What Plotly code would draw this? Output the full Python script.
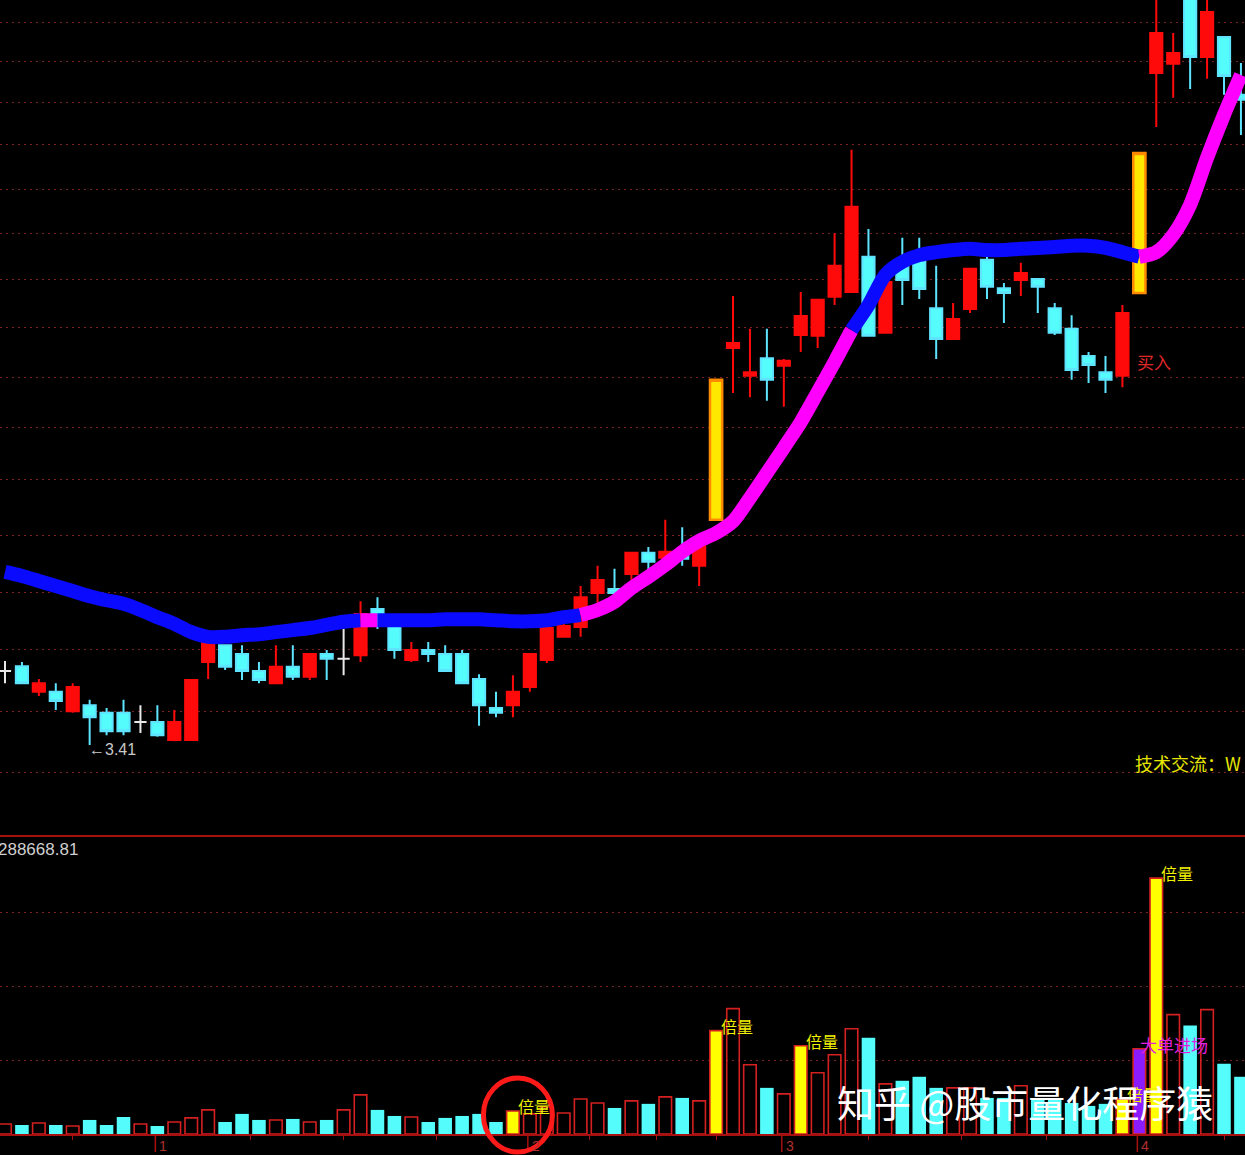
import math
import plotly.graph_objects as go

# ---------------- data ----------------
opens = [3.547, 3.556, 3.508, 3.508, 3.472, 3.483, 3.469, 3.469, 3.452, 3.452,
         3.419, 3.419, 3.564, 3.596, 3.579, 3.547, 3.524, 3.555, 3.536, 3.579,
         3.570, 3.577, 3.666, 3.650, 3.568, 3.587, 3.579, 3.579, 3.532, 3.478,
         3.483, 3.517, 3.568, 3.612, 3.631, 3.697, 3.705, 3.735, 3.777, 3.767,
         3.775, 3.751, 3.844, 4.212, 4.150, 4.189, 4.172, 4.241, 4.239, 4.328,
         4.339, 4.421, 4.246, 4.400, 4.411, 4.302, 4.232, 4.300, 4.414, 4.348,
         4.367, 4.369, 4.302, 4.255, 4.194, 4.158, 4.150, 4.337, 4.875, 4.899,
         5.090, 4.917, 4.969, 4.819]
highs = [3.566, 3.564, 3.532, 3.524, 3.524, 3.493, 3.478, 3.493, 3.483, 3.483,
         3.474, 3.530, 3.619, 3.596, 3.596, 3.564, 3.596, 3.596, 3.579, 3.587,
         3.627, 3.681, 3.689, 3.656, 3.602, 3.602, 3.596, 3.587, 3.541, 3.508,
         3.539, 3.579, 3.629, 3.654, 3.711, 3.751, 3.745, 3.779, 3.789, 3.844,
         3.829, 3.813, 4.141, 4.330, 4.255, 4.255, 4.187, 4.339, 4.321, 4.477,
         4.680, 4.487, 4.362, 4.466, 4.466, 4.400, 4.314, 4.393, 4.421, 4.360,
         4.407, 4.369, 4.314, 4.286, 4.203, 4.194, 4.309, 4.672, 5.080, 4.980,
         5.100, 5.090, 4.969, 4.901]
lows = [3.524, 3.524, 3.500, 3.474, 3.469, 3.410, 3.428, 3.428, 3.432, 3.425,
        3.417, 3.419, 3.532, 3.549, 3.530, 3.524, 3.524, 3.530, 3.530, 3.530,
        3.539, 3.564, 3.627, 3.570, 3.564, 3.564, 3.547, 3.524, 3.445, 3.461,
        3.461, 3.508, 3.562, 3.612, 3.612, 3.678, 3.689, 3.713, 3.739, 3.747,
        3.751, 3.711, 3.844, 4.112, 4.103, 4.095, 4.082, 4.203, 4.212, 4.309,
        4.339, 4.239, 4.246, 4.309, 4.323, 4.187, 4.232, 4.291, 4.323, 4.268,
        4.330, 4.291, 4.241, 4.141, 4.134, 4.112, 4.125, 4.337, 4.737, 4.811,
        4.834, 4.860, 4.819, 4.717]
closes = [3.547, 3.524, 3.524, 3.491, 3.517, 3.461, 3.435, 3.435, 3.452, 3.428,
          3.452, 3.530, 3.600, 3.555, 3.547, 3.530, 3.555, 3.536, 3.579, 3.570,
          3.570, 3.656, 3.650, 3.587, 3.587, 3.579, 3.547, 3.524, 3.483, 3.469,
          3.508, 3.579, 3.629, 3.633, 3.689, 3.723, 3.697, 3.777, 3.759, 3.779,
          3.765, 3.805, 4.141, 4.223, 4.158, 4.141, 4.183, 4.284, 4.321, 4.400,
          4.540, 4.239, 4.362, 4.367, 4.346, 4.232, 4.277, 4.393, 4.351, 4.337,
          4.383, 4.351, 4.246, 4.163, 4.174, 4.141, 4.291, 4.672, 4.980, 4.927,
          4.917, 5.036, 4.867, 4.806]

# thick trend line (moving average)
ma = [3.739, 3.731, 3.721, 3.711, 3.701, 3.691, 3.683, 3.676, 3.664, 3.650,
      3.637, 3.621, 3.612, 3.612, 3.615, 3.617, 3.621, 3.625, 3.629, 3.635,
      3.641, 3.644, 3.644, 3.644, 3.644, 3.644, 3.646, 3.646, 3.646, 3.644,
      3.642, 3.642, 3.644, 3.650, 3.654, 3.664, 3.680, 3.707, 3.729, 3.753,
      3.779, 3.801, 3.817, 3.841, 3.889, 3.941, 3.994, 4.049, 4.114, 4.181,
      4.252, 4.309, 4.379, 4.409, 4.425, 4.432, 4.437, 4.440, 4.437, 4.437,
      4.440, 4.442, 4.444, 4.447, 4.447, 4.442, 4.432, 4.421, 4.432, 4.473,
      4.545, 4.660, 4.768, 4.870]
# 1 = segment ending at this bar is drawn magenta (rising), 0 = blue
ma_up = [0, 0, 0, 0, 0, 0, 0, 0, 0, 0,
         0, 0, 0, 0, 0, 0, 0, 0, 0, 0,
         0, 0, 1, 0, 0, 0, 0, 0, 0, 0,
         0, 0, 0, 0, 0, 1, 1, 1, 1, 1,
         1, 1, 1, 1, 1, 1, 1, 1, 1, 1,
         1, 0, 0, 0, 0, 0, 0, 0, 0, 0,
         0, 0, 0, 0, 0, 0, 0, 0, 1, 1,
         1, 1, 1, 1]

volume = [9800, 8800, 10800, 8800, 7800, 13700, 8800, 16600, 9800, 7800,
          11700, 15700, 23500, 11700, 19600, 13700, 13700, 14700, 11700, 13700,
          23500, 38200, 23500, 17600, 16600, 11700, 15700, 17600, 19600, 11700,
          22500, 19600, 26400, 20500, 34200, 30300, 25400, 32300, 29400, 36200,
          35200, 32300, 100800, 122300, 67500, 45000, 39100, 86100, 59700, 77300,
          102700, 93900, 48900, 51900, 55800, 45000, 45000, 45000, 35200, 35200,
          47000, 34200, 34200, 30300, 27400, 29400, 34200, 83200, 249500, 116400,
          105700, 121300, 68500, 55800]
vol_top = 288668.81

signal_bars = [42, 67]                   # highlighted (yellow) price candles
double_vol_bars = [30, 42, 47, 66, 68]   # "倍量" volume bars
big_order_bar = 67                       # "大单进场" volume bar
circle_bar = 30                          # circled volume bar
low_idx, low_mark = 5, 3.41
buy_idx = 66

month_labels = ["1", "2", "3", "4"]
month_pos = [9, 31, 46, 67]
minor_ticks = [4, 14.5, 20, 25.5, 34.5, 38.5, 42, 51, 56.5, 61.5, 72]

price_grid = [3.361, 3.472, 3.587, 3.699, 3.813, 3.928, 4.038, 4.147,
              4.257, 4.367, 4.475, 4.583, 4.692, 4.798, 4.904, 5.009]
price_bottom, price_top = 3.249, 5.068

# ---------------- styling ----------------
H = 1155.0
W = 1245.0
RED = "#ff0a0a"
CYAN = "#54fcfc"
CYAN_LINE = "#5ee4ff"
WHITE = "#e8e8e8"
GRIDC = "#7a2222"
AXC = "#a81010"
CJK = "Noto Sans CJK SC"

n = len(closes)
idx_all = list(range(n))

fig = go.Figure()

# trend line runs (blue / magenta)
i = 1
while i < n:
    c = ma_up[i]
    j = i
    while j + 1 < n and ma_up[j + 1] == c:
        j += 1
    a, b = i - 1, j
    fig.add_trace(go.Scatter(
        x=list(range(a, b + 1)), y=ma[a:b + 1], mode="lines",
        line=dict(color="#ff00ff" if c else "#0a0aff", width=14,
                  shape="spline", smoothing=0.8),
        xaxis="x", yaxis="y", hoverinfo="skip", showlegend=False))
    i = j + 1


def candle(sel, fill, line, lw):
    dd = dict(fillcolor=fill, line=dict(color=line, width=lw))
    return go.Candlestick(
        x=sel, open=[opens[k] for k in sel], high=[highs[k] for k in sel],
        low=[lows[k] for k in sel], close=[closes[k] for k in sel],
        increasing=dd, decreasing=dd, whiskerwidth=0,
        xaxis="x", yaxis="y", hoverinfo="skip", showlegend=False)


up_idx = [k for k in idx_all if k not in signal_bars and closes[k] > opens[k]]
dn_idx = [k for k in idx_all if k not in signal_bars and closes[k] < opens[k]]
dj_idx = [k for k in idx_all if k not in signal_bars and closes[k] == opens[k]]

fig.add_trace(candle(up_idx, RED, RED, 2))
fig.add_trace(candle(dn_idx, CYAN, CYAN_LINE, 2))
fig.add_trace(candle(dj_idx, WHITE, WHITE, 2))
fig.add_trace(candle(signal_bars, "#ffe800", "#ff8a00", 2.5))

# volume bars
special = set(double_vol_bars) | {big_order_bar}
v_up = [k for k in idx_all if k not in special and closes[k] >= opens[k]]
v_dn = [k for k in idx_all if k not in special and closes[k] < opens[k]]

fig.add_trace(go.Bar(x=v_up, y=[volume[k] for k in v_up], width=0.74,
                     marker=dict(color="rgba(0,0,0,0)", line=dict(color="#d42020", width=1.6)),
                     xaxis="x2", yaxis="y2", hoverinfo="skip", showlegend=False))
fig.add_trace(go.Bar(x=v_dn, y=[volume[k] for k in v_dn], width=0.8,
                     marker=dict(color=CYAN, line=dict(width=0)),
                     xaxis="x2", yaxis="y2", hoverinfo="skip", showlegend=False))
fig.add_trace(go.Bar(x=double_vol_bars, y=[volume[k] for k in double_vol_bars], width=0.74,
                     marker=dict(color="#ffff00", line=dict(color="#d42020", width=1.6)),
                     xaxis="x2", yaxis="y2", hoverinfo="skip", showlegend=False))
fig.add_trace(go.Bar(x=[big_order_bar], y=[volume[big_order_bar]], width=0.74,
                     marker=dict(color="#8a1cff", line=dict(color="#d42020", width=1.6)),
                     xaxis="x2", yaxis="y2", hoverinfo="skip", showlegend=False))

xr = [-0.295, 73.24]
price_dom = [1 - 836 / H, 1]
vol_dom = [1 - 1134 / H, 1 - 838 / H]
vol_base_paper = vol_dom[0]

fig.update_layout(
    width=int(W), height=int(H), margin=dict(l=0, r=0, t=0, b=0),
    paper_bgcolor="black", plot_bgcolor="black", showlegend=False,
    boxgap=0.28, boxgroupgap=0, barmode="overlay",
    xaxis=dict(domain=[0, 1], range=xr, type="linear", anchor="y",
               showticklabels=False, showgrid=False, zeroline=False,
               rangeslider=dict(visible=False), fixedrange=True),
    yaxis=dict(domain=price_dom, type="log",
               range=[math.log10(price_bottom), math.log10(price_top)],
               tickvals=price_grid, showticklabels=False, showgrid=True,
               gridcolor=GRIDC, griddash="2px,4px", gridwidth=1,
               zeroline=False, ticks="", fixedrange=True),
    xaxis2=dict(domain=[0, 1], range=xr, type="linear", anchor="y2",
                showticklabels=False, showgrid=False, zeroline=False,
                showline=True, linecolor=AXC, linewidth=2,
                ticks="outside", tickvals=minor_ticks, ticklen=4,
                tickcolor=AXC, tickwidth=1, fixedrange=True),
    yaxis2=dict(domain=vol_dom, range=[0, vol_top],
                tickvals=[vol_top * f for f in (0.25, 0.5, 0.75)],
                showticklabels=False, showgrid=True, gridcolor=GRIDC,
                griddash="2px,4px", gridwidth=1, zeroline=False, ticks="",
                fixedrange=True),
)

shapes = []
# separator between panels
shapes.append(dict(type="line", xref="paper", yref="paper", x0=0, x1=1,
                   y0=1 - 836 / H, y1=1 - 836 / H,
                   line=dict(color=AXC, width=2)))
# month marks
for p in month_pos:
    shapes.append(dict(type="line", xref="x2", xsizemode="pixel", xanchor=p,
                       x0=-2, x1=-2, yref="paper", ysizemode="pixel",
                       yanchor=vol_base_paper, y0=0, y1=-18,
                       line=dict(color=AXC, width=1.5)))
# red highlight circle
shapes.append(dict(type="circle", xref="x2", xsizemode="pixel", xanchor=circle_bar,
                   x0=-29.5, x1=39.5, yref="paper", ysizemode="pixel",
                   yanchor=vol_base_paper, y0=-18, y1=56, layer="above",
                   line=dict(color="#ff1a1a", width=5)))
fig.update_layout(shapes=shapes)

ann = []
ann.append(dict(x=low_idx, y=math.log10(low_mark), xref="x", yref="y",
                text="←" + f"{low_mark:.2f}", showarrow=False,
                xanchor="left", yanchor="middle", xshift=-3, yshift=-4,
                font=dict(family="Liberation Sans", size=16, color="#c8c8c8")))
ann.append(dict(x=buy_idx, y=math.log10(opens[buy_idx]), xref="x", yref="y",
                text="买入", showarrow=False, xanchor="left", yanchor="middle",
                xshift=13, yshift=14,
                font=dict(family=CJK, size=17, color="#e02828")))
ann.append(dict(x=1133 / W, y=1 - 763 / H, xref="paper", yref="paper",
                text="技术交流：W", showarrow=False, xanchor="left", yanchor="middle",
                font=dict(family=CJK, size=18, color="#e6e600")))
ann.append(dict(x=0, y=1 - 849 / H, xref="paper", yref="paper",
                text=f"{vol_top:.2f}", showarrow=False, xanchor="left",
                yanchor="middle", xshift=-4,
                font=dict(family="Liberation Sans", size=17, color="#d0d0d0")))
for k in double_vol_bars:
    ann.append(dict(x=k, y=volume[k], xref="x2", yref="y2", text="倍量",
                    showarrow=False, xanchor="left", yanchor="middle",
                    xshift=3, yshift=5,
                    font=dict(family=CJK, size=16, color="#f2f200")))
ann.append(dict(x=big_order_bar, y=volume[big_order_bar], xref="x2", yref="y2",
                text="大单进场", showarrow=False, xanchor="left", yanchor="middle",
                xshift=-1, yshift=4,
                font=dict(family=CJK, size=17, color="#e020e0")))
for lab, p in zip(month_labels, month_pos):
    ann.append(dict(x=p, y=1 - 1146 / H, xref="x2", yref="paper", text=lab,
                    showarrow=False, xanchor="left", yanchor="middle", xshift=0,
                    font=dict(family="Liberation Sans", size=14, color="#b03030")))
ann.append(dict(x=835 / W, y=1 - 1102 / H, xref="paper", yref="paper",
                text="知乎 @股市量化程序猿", showarrow=False,
                xanchor="left", yanchor="middle",
                font=dict(family=CJK, size=37, color="white")))
fig.update_layout(annotations=ann)

fig.write_html("out.html",
               config={"displayModeBar": False},
               post_script="document.body.style.margin='0';document.body.style.overflow='hidden';")
